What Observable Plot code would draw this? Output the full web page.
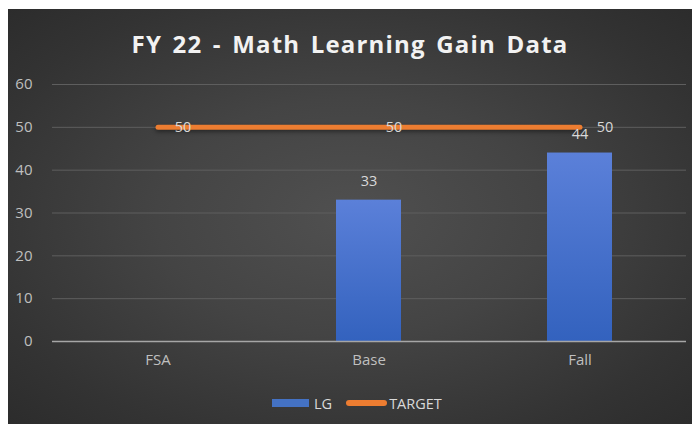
<!DOCTYPE html>
<html>
<head>
<meta charset="utf-8">
<script src="https://cdn.jsdelivr.net/npm/d3@7"></script>
<script src="https://cdn.jsdelivr.net/npm/@observablehq/plot@0.6"></script>
<style>
  html, body { margin: 0; padding: 0; background: #ffffff; }
  #wrap {
    position: absolute; left: 8px; top: 9px; width: 684px; height: 415px; overflow: hidden;
    background: radial-gradient(ellipse at 50% 50%, #505050 0%, #444444 40%, #333333 80%, #2c2c2c 100%);
    font-family: "Open Sans", "Liberation Sans", sans-serif;
  }
  #title {
    position: absolute; left: 0; width: 684px; top: 19px; line-height: 32px; text-align: center;
    font-size: 24px; font-weight: 700; color: #f2f2f2; letter-spacing: 1.2px; word-spacing: 3px;
  }
  #chart { position: absolute; left: 0; top: 61px; }
  #legend {
    position: absolute; left: 264px; top: 386px; height: 16px; display: flex; align-items: center;
    font-size: 14.5px; color: #d9d9d9;
  }
  .sw-bar { width: 37px; height: 8px; background: #4472c4; margin-right: 5px; }
  .sw-line { width: 41px; height: 6px; border-radius: 3px; background: #ed7d31; margin-left: 14px; margin-right: 2px; }
  #chart svg .target-line { filter: drop-shadow(0px 2px 2px rgba(0,0,0,0.45)); }
</style>
</head>
<body>
<div id="wrap">
  <div id="title">FY 22 - Math Learning Gain Data</div>
  <div id="chart"></div>
  <div id="legend"><span class="sw-bar"></span><span>LG</span><span class="sw-line"></span><span>TARGET</span></div>
</div>
<script>
const categories = ["FSA", "Base", "Fall"];
const lgValues = [null, 33, 44];
const targetValues = [50, 50, 50];
const yTicks = [0, 10, 20, 30, 40, 50, 60];

const data = categories.map((c, i) => ({cat: c, lg: lgValues[i], target: targetValues[i]}));
const barData = data.filter(d => d.lg != null);

const chart = Plot.plot({
  width: 684,
  height: 301,
  marginLeft: 44,
  marginRight: 6,
  marginTop: 14,
  marginBottom: 30,
  style: {background: "transparent", color: "#bfbfbf", fontSize: "15px", fontFamily: "Open Sans, sans-serif", overflow: "visible"},
  x: {domain: categories, paddingInner: 0.69, paddingOuter: 0.345, label: null, tickSize: 0, tickPadding: 13},
  y: {domain: [0, 60], ticks: yTicks, label: null, tickSize: 0, tickPadding: 20},
  marks: [
    Plot.ruleY(yTicks.filter(t => t > 0), {stroke: "#5e5e5e", strokeWidth: 1}),
    Plot.barY(barData, {x: "cat", y: "lg", fill: "url(#lgGrad)"}),
    Plot.ruleY([0], {stroke: "#a6a6a6", strokeWidth: 1.5}),
    Plot.line(data, {x: "cat", y: "target", stroke: "#ed7d31", strokeWidth: 5, strokeLinecap: "round", className: "target-line"}),
    Plot.text(data, {x: "cat", y: "target", text: d => String(d.target), dx: 25, fill: "#d9d9d9", fontSize: 14.5}),
    Plot.text(barData, {x: "cat", y: "lg", text: d => String(d.lg), dy: -19, fill: "#d9d9d9", fontSize: 14.5})
  ]
});

const ns = "http://www.w3.org/2000/svg";
const defs = document.createElementNS(ns, "defs");
const grad = document.createElementNS(ns, "linearGradient");
grad.setAttribute("id", "lgGrad");
grad.setAttribute("x1", "0"); grad.setAttribute("y1", "0");
grad.setAttribute("x2", "0"); grad.setAttribute("y2", "1");
[["0%", "#5b80d9"], ["100%", "#3362be"]].forEach(([o, c]) => {
  const s = document.createElementNS(ns, "stop");
  s.setAttribute("offset", o); s.setAttribute("stop-color", c);
  grad.appendChild(s);
});
defs.appendChild(grad);
chart.insertBefore(defs, chart.firstChild);

document.getElementById("chart").appendChild(chart);
</script>
</body>
</html>
